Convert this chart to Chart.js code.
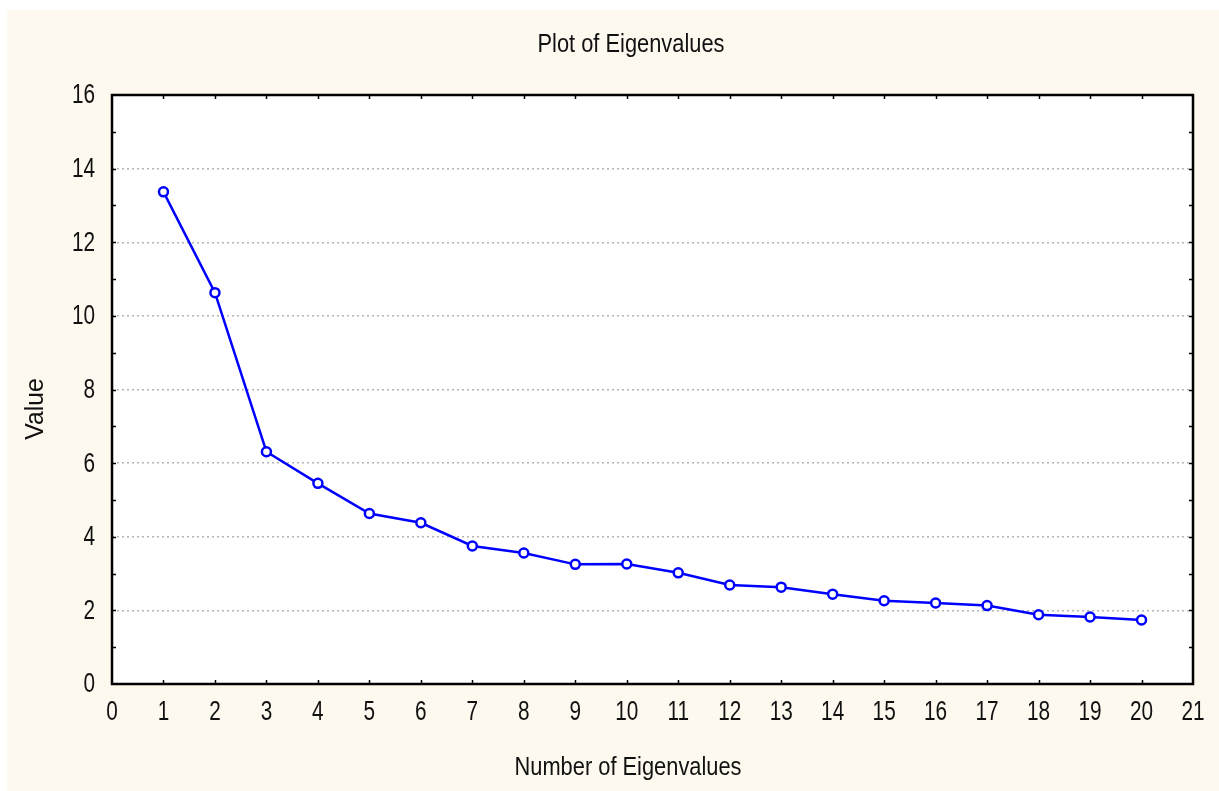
<!DOCTYPE html>
<html>
<head>
<meta charset="utf-8">
<script src="https://cdn.jsdelivr.net/npm/chart.js@4/dist/chart.umd.min.js"></script>
<style>
  html, body { margin: 0; padding: 0; background: #ffffff; }
  #wrap { width: 1219px; height: 791px; }
</style>
</head>
<body>
<div id="wrap"><canvas id="chart1" width="1219" height="791"></canvas></div>
<script>
// eigenvalue index and value
const eigenNumbers = [1, 2, 3, 4, 5, 6, 7, 8, 9, 10, 11, 12, 13, 14, 15, 16, 17, 18, 19, 20];
const eigenValues = [13.37, 10.63, 6.31, 5.45, 4.63, 4.38, 3.75, 3.56, 3.25, 3.26,
                     3.02, 2.69, 2.63, 2.44, 2.26, 2.20, 2.13, 1.88, 1.82, 1.74];
const xTickValues = [0, 1, 2, 3, 4, 5, 6, 7, 8, 9, 10, 11, 12, 13, 14, 15, 16, 17, 18, 19, 20, 21];
const yTickValues = [0, 2, 4, 6, 8, 10, 12, 14, 16];

const chartTitle = 'Plot of Eigenvalues';
const xTitle = 'Number of Eigenvalues';
const yTitle = 'Value';

const FONT = '"Liberation Sans", Arial, sans-serif';
const cream = '#fdf9ee';

const points = eigenNumbers.map((n, i) => ({x: n, y: eigenValues[i]}));

// draw text squeezed horizontally around its anchor (the original uses a tall, narrow face)
function narrowText(c, txt, x, y, align, baseline, squeeze) {
    c.save();
    c.translate(x, y);
    c.scale(squeeze, 1);
    c.textAlign = align;
    c.textBaseline = baseline;
    c.fillText(txt, 0, 0);
    c.restore();
}

// cream page, white plot area, frame + inward ticks, labels and titles
const framePlugin = {
    id: 'frame',
    beforeDraw(chart) {
        const c = chart.ctx;
        const a = chart.chartArea;
        c.save();
        c.fillStyle = '#ffffff';
        c.fillRect(0, 0, chart.width, chart.height);
        c.fillStyle = cream;
        c.fillRect(7, 10, chart.width - 7, chart.height - 10);
        c.fillStyle = '#ffffff';
        c.fillRect(a.left, a.top, a.right - a.left, a.bottom - a.top);
        c.restore();
    },
    afterDraw(chart) {
        const c = chart.ctx;
        const a = chart.chartArea;
        const xs = chart.scales.x;
        const ys = chart.scales.y;
        c.save();
        c.strokeStyle = '#000000';
        c.lineWidth = 1.5;
        c.beginPath();
        for (let v = 1; v < 21; v++) {
            const px = Math.round(xs.getPixelForValue(v)) + 0.5;
            c.moveTo(px, a.bottom); c.lineTo(px, a.bottom - 4);
            c.moveTo(px, a.top); c.lineTo(px, a.top + 4);
        }
        for (let v = 1; v < 16; v++) {
            const py = Math.round(ys.getPixelForValue(v)) + 0.5;
            c.moveTo(a.left, py); c.lineTo(a.left + 4, py);
            c.moveTo(a.right, py); c.lineTo(a.right - 4, py);
        }
        c.stroke();
        c.lineWidth = 2.5;
        c.strokeRect(a.left, a.top, a.right - a.left, a.bottom - a.top);

        c.fillStyle = '#111111';
        c.font = '27px ' + FONT;
        xTickValues.forEach(v => {
            narrowText(c, String(v), xs.getPixelForValue(v), a.bottom + 29, 'center', 'middle', 0.77);
        });
        yTickValues.forEach(v => {
            narrowText(c, String(v), a.left - 17, ys.getPixelForValue(v) + 1, 'right', 'middle', 0.77);
        });

        c.font = '26px ' + FONT;
        narrowText(c, chartTitle, 631, 52, 'center', 'alphabetic', 0.84);
        narrowText(c, xTitle, 628, 775, 'center', 'alphabetic', 0.84);
        c.translate(43, 409);
        c.rotate(-Math.PI / 2);
        narrowText(c, yTitle, 0, 0, 'center', 'alphabetic', 0.95);
        c.restore();
    }
};

const ctx = document.getElementById('chart1');
new Chart(ctx, {
    type: 'line',
    data: {
        datasets: [{
            label: 'Eigenvalues',
            data: points,
            fill: false,
            borderColor: '#0000ff',
            borderWidth: 2.5,
            backgroundColor: '#ffffff',
            pointBackgroundColor: '#ffffff',
            pointBorderColor: '#0000ff',
            pointBorderWidth: 2.5,
            pointRadius: 4.5,
            tension: 0
        }]
    },
    options: {
        responsive: false,
        animation: false,
        layout: {
            padding: {left: 0, right: 26, top: 95, bottom: 0}
        },
        plugins: {
            legend: {display: false},
            title: {display: false},
            tooltip: {enabled: false}
        },
        scales: {
            x: {
                type: 'linear',
                min: 0,
                max: 21,
                afterFit: (scale) => { scale.height = 107; },
                ticks: {stepSize: 1, display: false},
                grid: {display: false, drawTicks: false},
                border: {display: false}
            },
            y: {
                min: 0,
                max: 16,
                afterFit: (scale) => { scale.width = 112; },
                ticks: {stepSize: 2, display: false},
                grid: {
                    drawTicks: false,
                    lineWidth: 1.5,
                    color: (c) => (c.tick.value > 0 && c.tick.value < 16) ? '#b4b4b4' : 'rgba(0,0,0,0)'
                },
                border: {display: false, dash: [2, 3]}
            }
        }
    },
    plugins: [framePlugin]
});
</script>
</body>
</html>
